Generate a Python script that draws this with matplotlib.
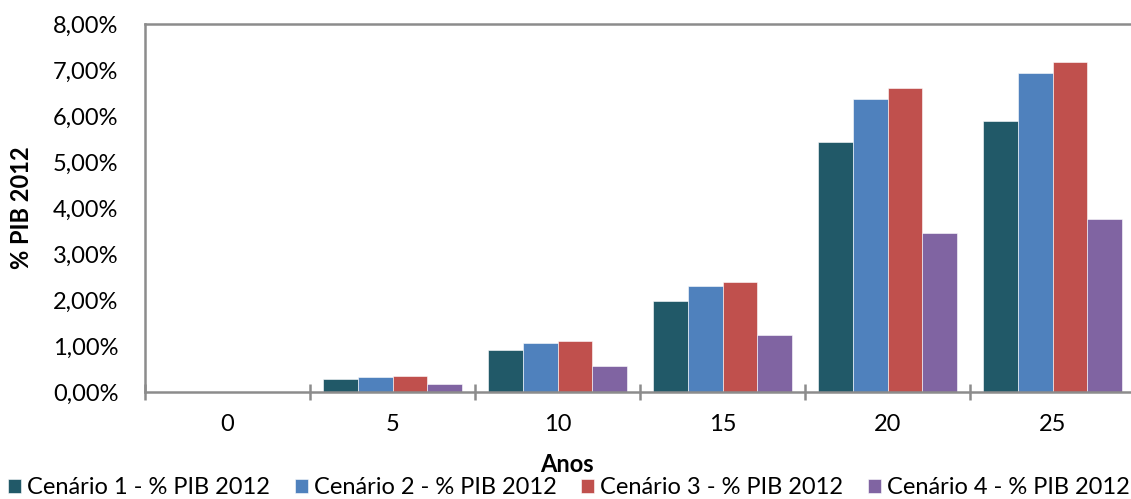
import numpy as np
import matplotlib.pyplot as plt

plt.rcParams['font.family'] = ['Lato', 'DejaVu Sans']

ANOS = ['0', '5', '10', '15', '20', '25']
SERIES = ['Cenário 1 - % PIB 2012', 'Cenário 2 - % PIB 2012',
          'Cenário 3 - % PIB 2012', 'Cenário 4 - % PIB 2012']
CENARIO_1 = [0.0, 0.28, 0.91, 1.97, 5.43, 5.89]
CENARIO_2 = [0.0, 0.32, 1.07, 2.31, 6.37, 6.93]
CENARIO_3 = [0.0, 0.34, 1.10, 2.39, 6.61, 7.17]
CENARIO_4 = [0.0, 0.17, 0.57, 1.25, 3.46, 3.76]
COLORS = ['#215968', '#4F81BD', '#C0504D', '#8064A2']

FS = 17
W, H = 1131, 499
fig = plt.figure(figsize=(W / 100, H / 100), dpi=100)
ax = fig.add_axes([145 / W, 1 - 392 / H, 990 / W, 368 / H])

x = np.arange(len(ANOS))
bar_w = 0.21
for k, (vals, name, col) in enumerate(zip([CENARIO_1, CENARIO_2, CENARIO_3, CENARIO_4], SERIES, COLORS)):
    ax.bar(x + (k - 1.5) * bar_w, vals, width=bar_w, color=col, label=name,
           edgecolor='white', linewidth=0.4)

ax.set_xlim(-0.5, len(ANOS) - 0.5)
ax.set_ylim(0, 8)

spine_col = '#8c8c8c'
for s in ax.spines.values():
    s.set_color(spine_col)
    s.set_linewidth(1.8)
ax.spines['right'].set_visible(False)

# category boundaries get the tick marks, centres get the labels
ax.set_xticks(np.arange(len(ANOS) + 1) - 0.5)
ax.set_xticklabels([])
ax.tick_params(axis='x', which='major', direction='inout', length=11.5, width=1.8, color=spine_col)
ax.set_xticks(x, minor=True)
ax.set_xticklabels(ANOS, minor=True)
ax.tick_params(axis='x', which='minor', length=0, pad=16, labelsize=FS)

ax.set_yticks(np.arange(0, 9))
ax.set_yticklabels([f'{v:.2f}%'.replace('.', ',') for v in np.arange(0, 9)])
ax.tick_params(axis='y', length=0, pad=19, labelsize=FS)

ax.set_ylabel('% PIB 2012', fontsize=FS, fontweight='bold')
ax.yaxis.set_label_coords(-0.113, 0.5)
fig.text(567 / W, 1 - 465 / H, 'Anos', ha='center', va='center', fontsize=FS, fontweight='bold')

fig.legend(loc='center', bbox_to_anchor=(569 / W, 1 - 488 / H), ncol=4, frameon=False,
           fontsize=FS, handlelength=0.55, handleheight=0.55, handletextpad=0.25,
           columnspacing=1.05, borderaxespad=0, borderpad=0)

fig.savefig('out.png', dpi=100)
